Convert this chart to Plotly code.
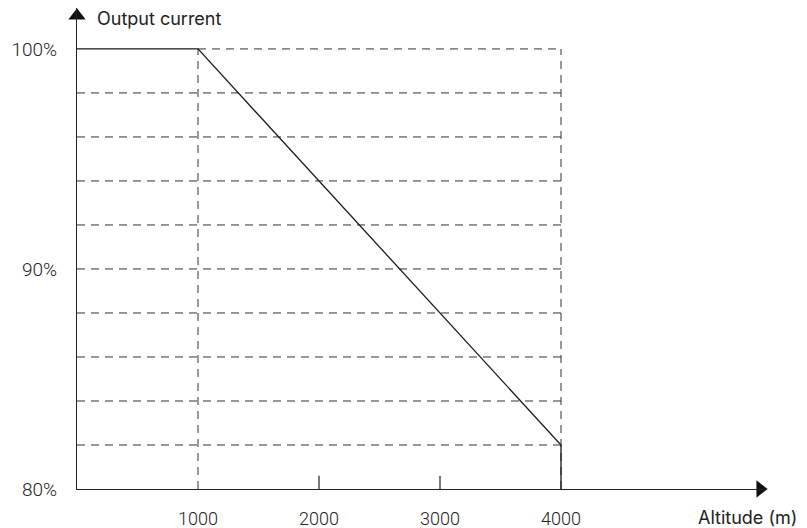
import plotly.graph_objects as go

# Data
altitude = [0, 1000, 4000, 4000]
current = [100, 100, 82, 80]
grid_levels = [82, 84, 86, 88, 90, 92, 94, 96, 98]
grid_vlines = [1000, 4000]
minor_ticks = [2000, 3000]
x_tickvals = [1000, 2000, 3000, 4000]
x_ticktext = ["1000", "2000", "3000", "4000"]
y_tickvals = [80, 90, 100]
y_ticktext = ["80%", "90%", "100%"]

X_END = 5686
Y_END = 101.86
TXT = "#222"
DASH = "8px,6px"
XTF = dict(family="Roboto", size=18, color=TXT, weight=300)
YTF = dict(family="Roboto", size=19, color=TXT, weight=300)
TITF = dict(family="Inter", size=18, color=TXT, weight=400)

fig = go.Figure()

for g in grid_levels:
    fig.add_trace(go.Scatter(x=[0, 4000], y=[g, g], mode="lines",
                             line=dict(color="#333", width=1, dash=DASH),
                             hoverinfo="skip", showlegend=False))
fig.add_trace(go.Scatter(x=[1000, 4000], y=[100, 100], mode="lines",
                         line=dict(color="#333", width=1, dash=DASH),
                         hoverinfo="skip", showlegend=False))
for v in grid_vlines:
    fig.add_trace(go.Scatter(x=[v, v], y=[80, 100], mode="lines",
                             line=dict(color="#333", width=1, dash=DASH),
                             hoverinfo="skip", showlegend=False))
for t in minor_ticks:
    fig.add_trace(go.Scatter(x=[t, t], y=[80, 80.6], mode="lines",
                             line=dict(color="#222", width=1.2),
                             hoverinfo="skip", showlegend=False))

fig.add_trace(go.Scatter(x=altitude, y=current, mode="lines",
                         line=dict(color="#1a1a1a", width=1.3),
                         hoverinfo="skip", showlegend=False))

# axis arrows
fig.add_trace(go.Scatter(x=[X_END - 40], y=[80], mode="markers",
                         marker=dict(symbol="triangle-right", size=15, color="#111"),
                         cliponaxis=False, hoverinfo="skip", showlegend=False))
fig.add_trace(go.Scatter(x=[0], y=[Y_END - 0.35], mode="markers",
                         marker=dict(symbol="triangle-up", size=15, color="#111"),
                         cliponaxis=False, hoverinfo="skip", showlegend=False))

fig.update_layout(
    width=799, height=520,
    margin=dict(l=69, r=42, t=0, b=39, autoexpand=False),
    paper_bgcolor="white", plot_bgcolor="white",
    font=XTF,
    xaxis=dict(range=[0, X_END], showgrid=False, zeroline=False,
               showline=True, linecolor="#222", linewidth=1.3,
               tickvals=x_tickvals, ticktext=x_ticktext, ticks="",
               ticklabelstandoff=13, fixedrange=True, automargin=False,
               tickfont=XTF),
    yaxis=dict(range=[80, Y_END], showgrid=False, zeroline=False,
               showline=True, linecolor="#222", linewidth=1.3,
               tickvals=y_tickvals, ticktext=y_ticktext, ticks="",
               ticklabelstandoff=15, fixedrange=True, automargin=False,
               tickfont=YTF),
    annotations=[
        dict(text="Output current", xref="x", yref="paper",
             x=0, y=1, xshift=18, yshift=-10, xanchor="left", yanchor="middle",
             showarrow=False, font=TITF),
        dict(text="Altitude (m)", xref="paper", yref="paper",
             x=1, y=0, xshift=34, yshift=-28, xanchor="right", yanchor="middle",
             showarrow=False, font=TITF),
    ],
)

fig.write_html("out.html")
